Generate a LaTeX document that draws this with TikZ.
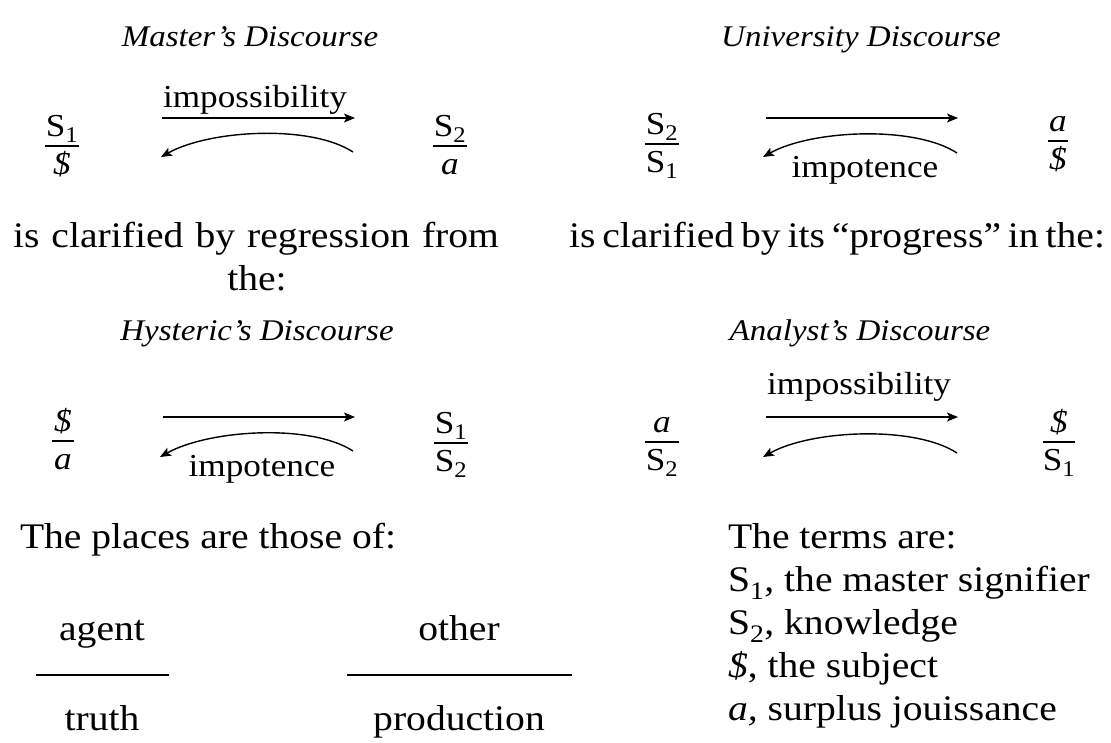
\documentclass[tikz,border=0pt]{standalone}
\usepackage{fontspec}
\setmainfont{Liberation Serif}[FakeStretch=1.1]
\usetikzlibrary{arrows.meta}
\newcommand{\bS}{\textit{\$}}
\newcommand{\Sn}[1]{S\textsubscript{#1}}
\tikzset{
  every node/.style={inner sep=0pt, outer sep=0pt},
  body/.style={font=\fontsize{36}{43}\selectfont, anchor=base},
  bodyw/.style={font=\fontsize{36}{43}\selectfont, anchor=base west},
  titletext/.style={font=\fontsize{30}{36}\selectfont\itshape, anchor=base},
  lbl/.style={font=\fontsize{32}{38}\selectfont, anchor=base},
  fracnode/.style={font=\fontsize{32}{38}\selectfont, anchor=base},
  arr/.style={line width=1.4pt, -{Stealth[length=11pt,width=9pt,inset=2.5pt]}},
  barline/.style={line width=1.3pt},
}
% name, x, bar y, half width, numerator, denominator
\newcommand{\fracat}[6]{%
  \node[fracnode] (#1n) at (#2,#3-10) {#5};
  \node[fracnode] (#1d) at (#2,#3+28) {#6};
  \coordinate (#1l) at (#2-#4,#3);
  \coordinate (#1r) at (#2+#4,#3);
  \draw[barline] (#1l) -- (#1r);}
\begin{document}
\begin{tikzpicture}[x=1pt,y=-1pt]
\useasboundingbox (0,0) rectangle (1111,742);

% ---------- Master's Discourse ----------
\node[titletext] (tM) at (250,46) {Master’s Discourse};
\fracat{M1}{62}{146}{17}{\Sn{1}}{\bS}
\fracat{M2}{450}{146}{17}{\Sn{2}}{\textit{a}}
\coordinate (Ma) at (162,118); \coordinate (Mb) at (355,118);
\coordinate (Mc) at (353,152); \coordinate (Md) at (161,157);
\draw[arr] (Ma) -- (Mb);
\draw[arr] (Mc) .. controls +(-43,-28) and +(48,-27) .. (Md);
\node[lbl] (Mimp) at (255,107) {impossibility};

% ---------- University Discourse ----------
\node[titletext] (tU) at (861,46) {University Discourse};
\fracat{U1}{662}{144}{17}{\Sn{2}}{\Sn{1}}
\fracat{U2}{1058}{141}{10}{\textit{a}}{\bS}
\coordinate (Ua) at (766,118); \coordinate (Ub) at (958,118);
\coordinate (Uc) at (957,153); \coordinate (Ud) at (763,157);
\draw[arr] (Ua) -- (Ub);
\draw[arr] (Uc) .. controls +(-43,-28) and +(48,-27) .. (Ud);
\node[lbl] (Uimp) at (865,177) {impotence};

% ---------- middle texts ----------
\node[bodyw] (cl1) at (13,247) {\makebox[486pt][s]{is clarified by regression from}};
\node[body] (cl1b) at (257,290) {the:};
\node[bodyw] (cl2) at (569,247) {\makebox[536pt][s]{is clarified by its “progress” in the:}};

% ---------- Hysteric's Discourse ----------
\node[titletext] (tH) at (257,340) {Hysteric’s Discourse};
\fracat{H1}{63}{441}{11}{\bS}{\textit{a}}
\fracat{H2}{451}{443}{17}{\Sn{1}}{\Sn{2}}
\coordinate (Ha) at (163,417); \coordinate (Hb) at (355,417);
\coordinate (Hc) at (353,451); \coordinate (Hd) at (160,457);
\draw[arr] (Ha) -- (Hb);
\draw[arr] (Hc) .. controls +(-43,-28) and +(48,-27) .. (Hd);
\node[lbl] (Himp) at (262,476) {impotence};

% ---------- Analyst's Discourse ----------
\node[titletext] (tA) at (860,340) {Analyst’s Discourse};
\fracat{A1}{662}{442}{17}{\textit{a}}{\Sn{2}}
\fracat{A2}{1059}{442}{16}{\bS}{\Sn{1}}
\coordinate (Aa) at (766,417); \coordinate (Ab) at (958,417);
\coordinate (Ac) at (957,453); \coordinate (Ad) at (763,457);
\draw[arr] (Aa) -- (Ab);
\draw[arr] (Ac) .. controls +(-43,-28) and +(48,-27) .. (Ad);
\node[lbl] (Aimp) at (859,394) {impossibility};

% ---------- places ----------
\node[bodyw] (pl) at (20,548) {The places are those of:};
\node[body] (ag) at (102,640) {agent};
\node[body] (tr) at (102,730) {truth};
\node[body] (ot) at (459,640) {other};
\node[body] (pr) at (459,730) {production};
\coordinate (l1a) at (36,675); \coordinate (l1b) at (169,675);
\coordinate (l2a) at (347,675); \coordinate (l2b) at (572,675);
\draw[barline] (l1a) -- (l1b);
\draw[barline] (l2a) -- (l2b);

% ---------- terms ----------
\node[bodyw] (te0) at (728,548) {The terms are:};
\node[bodyw] (te1) at (728,591) {\Sn{1}, the master signifier};
\node[bodyw] (te2) at (728,634) {\Sn{2}, knowledge};
\node[bodyw] (te3) at (728,677) {\bS, the subject};
\node[bodyw] (te4) at (728,720) {\textit{a,} surplus jouissance};
\end{tikzpicture}
\end{document}
